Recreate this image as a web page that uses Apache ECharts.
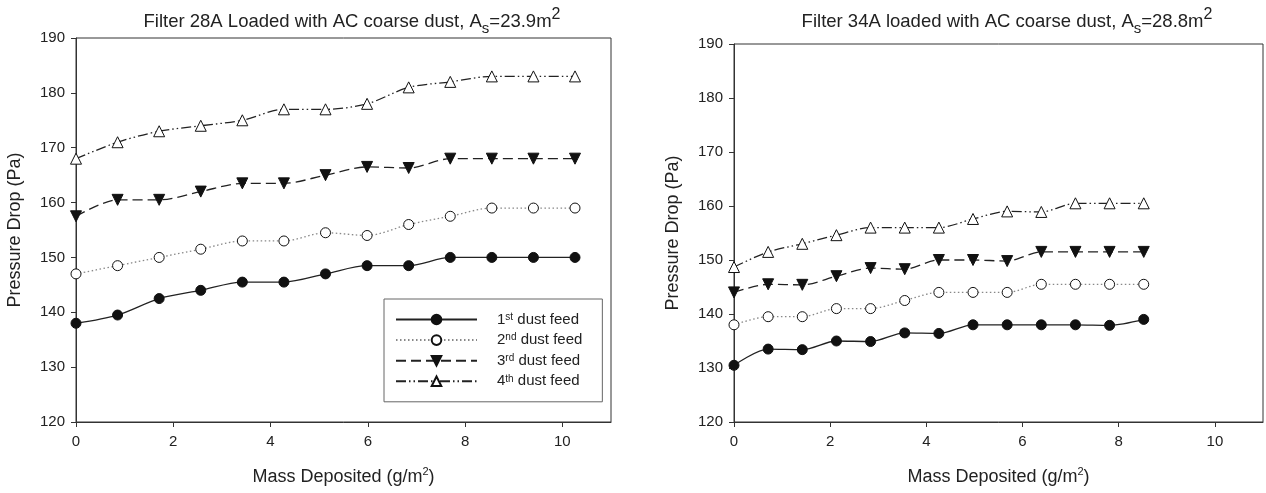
<!DOCTYPE html>
<html>
<head>
<meta charset="utf-8">
<script src="https://cdn.jsdelivr.net/npm/echarts@6/dist/echarts.min.js"></script>
<style>
html,body{margin:0;padding:0;background:#fff;}
#chart{width:1266px;height:493px;}
</style>
</head>
<body>
<div id="chart"></div>
<script>
// ---- data ----
const seriesNames = ['1st dust feed', '2nd dust feed', '3rd dust feed', '4th dust feed'];
const legendLabels = ['1{sup|st} dust feed', '2{sup|nd} dust feed', '3{sup|rd} dust feed', '4{sup|th} dust feed'];

const leftTitle = 'Filter 28A Loaded with AC coarse dust, A{sub|s}=23.9m{sup|2}';
const rightTitle = 'Filter 34A loaded with AC coarse dust, A{sub|s}=28.8m{sup|2}';
const xAxisName = 'Mass Deposited (g/m{sup|2})';
const yAxisName = 'Pressure Drop (Pa)';

const xTicks = [0, 2, 4, 6, 8, 10];
const yTicks = [120, 130, 140, 150, 160, 170, 180, 190];

const leftX = [0, 0.855, 1.71, 2.565, 3.42, 4.275, 5.13, 5.985, 6.84, 7.695, 8.55, 9.405, 10.26];
const leftFeed1 = [138, 139.5, 142.5, 144, 145.5, 145.5, 147, 148.5, 148.5, 150, 150, 150, 150];
const leftFeed2 = [147, 148.5, 150, 151.5, 153, 153, 154.5, 154, 156, 157.5, 159, 159, 159];
const leftFeed3 = [157.5, 160.5, 160.5, 162, 163.5, 163.5, 165, 166.5, 166.3, 168, 168, 168, 168];
const leftFeed4 = [168, 171, 173, 174, 175, 177, 177, 178, 181, 182, 183, 183, 183];

const rightX = [0, 0.71, 1.42, 2.13, 2.84, 3.55, 4.26, 4.97, 5.68, 6.39, 7.1, 7.81, 8.52];
const rightFeed1 = [130.5, 133.5, 133.4, 135, 134.9, 136.5, 136.4, 138, 138, 138, 138, 137.9, 139];
const rightFeed2 = [138, 139.5, 139.5, 141, 141, 142.5, 144, 144, 144, 145.5, 145.5, 145.5, 145.5];
const rightFeed3 = [144, 145.5, 145.4, 147, 148.5, 148.3, 150, 150, 149.8, 151.5, 151.5, 151.5, 151.5];
const rightFeed4 = [148.7, 151.5, 153, 154.6, 156, 156, 156, 157.6, 159, 158.9, 160.5, 160.5, 160.5];

// ---- styles ----
const FONT = '"Liberation Sans", Arial, sans-serif';
const TXT = '#222';
const LINE = '#333';

function pairs(xs, ys) { return xs.map((x, i) => [x, ys[i]]); }

const seriesStyles = [
  { symbol: 'circle', symbolSize: 10, symbolRotate: 0, fill: '#111', line: { color: '#222', width: 1.3, type: 'solid' } },
  { symbol: 'circle', symbolSize: 10, symbolRotate: 0, fill: '#fff', line: { color: '#888', width: 1.3, type: [1.5, 2.5] } },
  { symbol: 'triangle', symbolSize: 11, symbolRotate: 180, fill: '#111', line: { color: '#222', width: 1.3, type: [10, 5] } },
  { symbol: 'triangle', symbolSize: 11, symbolRotate: 0, fill: '#fff', line: { color: '#222', width: 1.3, type: [10, 3, 1.5, 3, 1.5, 3] } }
];

function makeSeries(idx, xs, ys, gridIdx) {
  const st = seriesStyles[idx];
  return {
    type: 'line',
    name: seriesNames[idx],
    xAxisIndex: gridIdx,
    yAxisIndex: gridIdx,
    data: pairs(xs, ys),
    smooth: 0.3,
    symbol: st.symbol,
    symbolSize: st.symbolSize,
    symbolRotate: st.symbolRotate,
    showAllSymbol: true,
    itemStyle: { color: st.fill, borderColor: '#111', borderWidth: 1 },
    lineStyle: st.line,
    emphasis: { disabled: true },
    animation: false,
    z: 3 + idx
  };
}

const titleRich = {
  n: { fontSize: 18.5, fontFamily: FONT, color: TXT, lineHeight: 29, verticalAlign: 'middle' },
  sub: { fontSize: 15, fontFamily: FONT, color: TXT, lineHeight: 15, verticalAlign: 'bottom' },
  sup: { fontSize: 16, fontFamily: FONT, color: TXT, lineHeight: 16, verticalAlign: 'top' }
};

function axisX(gridIdx) {
  return {
    type: 'value', gridIndex: gridIdx, min: 0, max: 11, interval: 2,
    name: xAxisName, nameLocation: 'middle', nameGap: 44,
    nameTextStyle: {
      fontSize: 18, fontFamily: FONT, color: TXT, lineHeight: 22,
      rich: {
        sup: { fontSize: 11, fontFamily: FONT, color: TXT, lineHeight: 11, verticalAlign: 'top' }
      }
    },
    axisLine: { show: true, onZero: false, lineStyle: { color: LINE, width: 1 } },
    axisTick: { show: true, inside: false, length: 5, customValues: xTicks, lineStyle: { color: LINE } },
    axisLabel: { customValues: xTicks, margin: 12, fontSize: 15, fontFamily: FONT, color: TXT },
    splitLine: { show: false }
  };
}
function axisY(gridIdx) {
  return {
    type: 'value', gridIndex: gridIdx, min: 120, max: 190, interval: 10,
    name: yAxisName, nameLocation: 'middle', nameGap: 52, nameRotate: 90,
    nameTextStyle: { fontSize: 18, fontFamily: FONT, color: TXT },
    axisLine: { show: true, onZero: false, lineStyle: { color: LINE, width: 1 } },
    axisTick: { show: true, inside: false, length: 5, customValues: yTicks, lineStyle: { color: LINE } },
    axisLabel: { customValues: yTicks, margin: 11, fontSize: 15, fontFamily: FONT, color: TXT },
    splitLine: { show: false }
  };
}

function richTitle(t) {
  return '{n|' + t.replace(/\{sub\|s\}/, '}{sub|s}{n|').replace(/\{sup\|2\}/, '}{sup|2}');
}

const chart = echarts.init(document.getElementById('chart'), null, { renderer: 'canvas' });
chart.setOption({
  backgroundColor: '#fff',
  animation: false,
  title: [
    { text: richTitle(leftTitle),
      left: 352, top: 7, textAlign: 'center', padding: 0,
      textStyle: { rich: titleRich, fontSize: 18, fontFamily: FONT, color: TXT, fontWeight: 'normal' } },
    { text: richTitle(rightTitle),
      left: 1007, top: 7, textAlign: 'center', padding: 0,
      textStyle: { rich: titleRich, fontSize: 18, fontFamily: FONT, color: TXT, fontWeight: 'normal' } }
  ],
  grid: [
    { left: 76, top: 38, width: 535, height: 384, show: true, borderColor: LINE, borderWidth: 1, backgroundColor: 'transparent' },
    { left: 734, top: 44, width: 529, height: 379, show: true, borderColor: LINE, borderWidth: 1, backgroundColor: 'transparent' }
  ],
  xAxis: [axisX(0), axisX(1)],
  yAxis: [axisY(0), axisY(1)],
  legend: {
    data: seriesNames,
    orient: 'vertical',
    left: 384, top: 299,
    itemWidth: 81, itemHeight: 12, itemGap: 5.6,
    padding: [13, 20, 13, 11],
    borderColor: '#666', borderWidth: 1, backgroundColor: '#fff',
    selectedMode: false,
    formatter: function (name) { return legendLabels[seriesNames.indexOf(name)]; },
    textStyle: {
      fontSize: 15, fontFamily: FONT, color: TXT, padding: [0, 0, 0, 15],
      rich: {
        sup: { fontSize: 10, fontFamily: FONT, color: TXT, verticalAlign: 'top', lineHeight: 10 }
      }
    }
  },
  series: [
    makeSeries(0, leftX, leftFeed1, 0),
    makeSeries(1, leftX, leftFeed2, 0),
    makeSeries(2, leftX, leftFeed3, 0),
    makeSeries(3, leftX, leftFeed4, 0),
    makeSeries(0, rightX, rightFeed1, 1),
    makeSeries(1, rightX, rightFeed2, 1),
    makeSeries(2, rightX, rightFeed3, 1),
    makeSeries(3, rightX, rightFeed4, 1)
  ]
});
</script>
</body>
</html>
